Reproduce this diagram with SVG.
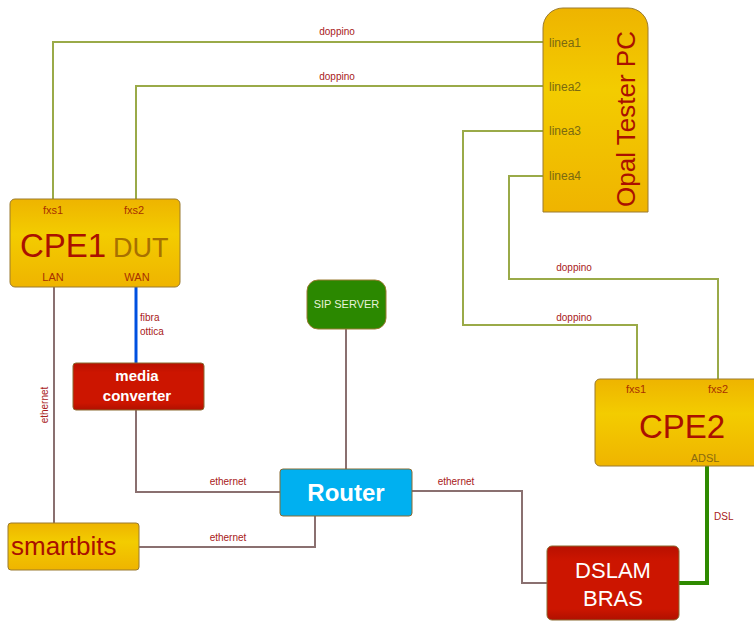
<svg xmlns="http://www.w3.org/2000/svg" width="754" height="621" viewBox="0 0 754 621">
<defs>
<linearGradient id="gy" x1="0" y1="0" x2="0" y2="1">
<stop offset="0" stop-color="#eeb400"/><stop offset="0.4" stop-color="#f3cc00"/><stop offset="1" stop-color="#efb400"/>
</linearGradient>
<linearGradient id="gr" x1="0" y1="0" x2="0" y2="1">
<stop offset="0" stop-color="#b81000"/><stop offset="0.2" stop-color="#cc1500"/><stop offset="0.85" stop-color="#cc1500"/><stop offset="1" stop-color="#b01000"/>
</linearGradient>
</defs>
<style>
text{font-family:"Liberation Sans",Arial,sans-serif}
.y{fill:url(#gy);stroke:#9a7a30;stroke-width:1}
.r{fill:url(#gr);stroke:#8a6a30;stroke-width:1}
.dp{fill:none;stroke:#9aaa48;stroke-width:2}
.et{fill:none;stroke:#8a7070;stroke-width:2}
.lbl{font-size:10px;fill:#a82020}
.port{font-size:11px;fill:#a83000}
.lin{font-size:12px;fill:#7a6a10}
</style>
<g id="connectors">
<polyline class="dp" points="543,42 53,42 53,199"/>
<polyline class="dp" points="543,86 136,86 136,199"/>
<polyline class="dp" points="543,131 463,131 463,325 637,325 637,379"/>
<polyline class="dp" points="543,176 509,176 509,279 718,279 718,379"/>
<text class="lbl" x="337" y="35" text-anchor="middle">doppino</text>
<text class="lbl" x="337" y="80" text-anchor="middle">doppino</text>
<text class="lbl" x="574" y="271" text-anchor="middle">doppino</text>
<text class="lbl" x="574" y="321" text-anchor="middle">doppino</text>
<line x1="136" y1="287" x2="136" y2="363" stroke="#0050e0" stroke-width="3"/>
<text class="lbl" x="140" y="321">fibra</text>
<text class="lbl" x="140" y="335">ottica</text>
<line class="et" x1="54" y1="287" x2="54" y2="523"/>
<text class="lbl" transform="translate(48,405) rotate(-90)" text-anchor="middle">ethernet</text>
<line class="et" x1="346" y1="329" x2="346" y2="469"/>
<polyline class="et" points="136,410 136,492 280,492"/>
<text class="lbl" x="228" y="485" text-anchor="middle">ethernet</text>
<polyline class="et" points="139,547 315,547 315,516"/>
<text class="lbl" x="228" y="541" text-anchor="middle">ethernet</text>
<polyline class="et" points="412,491 522,491 522,583 547,583"/>
<text class="lbl" x="456" y="485" text-anchor="middle">ethernet</text>
<polyline points="707,466 707,583 679,583" fill="none" stroke="#2e8a00" stroke-width="4"/>
<text class="lbl" x="714" y="520">DSL</text>
</g>
<g id="opal">
<path class="y" d="M543,212 V28 A20,20 0 0 1 563,8 H628 A20,20 0 0 1 648,28 V212 Z"/>
<text class="lin" x="549" y="47">linea1</text>
<text class="lin" x="549" y="91">linea2</text>
<text class="lin" x="549" y="135">linea3</text>
<text class="lin" x="549" y="180">linea4</text>
<text transform="translate(635,119) rotate(-90)" text-anchor="middle" font-size="26" fill="#aa1000">Opal Tester PC</text>
</g>
<g id="cpe1">
<rect class="y" x="10" y="199" width="170" height="88" rx="5"/>
<text class="port" x="53" y="214" text-anchor="middle">fxs1</text>
<text class="port" x="134" y="214" text-anchor="middle">fxs2</text>
<text x="20" y="257" font-size="33" fill="#aa1000">CPE1</text>
<text x="113" y="257" font-size="27" fill="#a87000">DUT</text>
<text class="port" x="53" y="281" text-anchor="middle">LAN</text>
<text class="port" x="137" y="281" text-anchor="middle">WAN</text>
</g>
<g id="sip">
<rect x="307" y="280" width="79" height="49" rx="11" fill="#2b8800" stroke="#9a7a30"/>
<text x="346.5" y="308" text-anchor="middle" font-size="11" fill="#e6f2d8">SIP SERVER</text>
</g>
<g id="mediaconverter">
<rect class="r" x="73" y="363" width="131" height="47" rx="3"/>
<text x="137" y="381" text-anchor="middle" font-size="15" font-weight="bold" fill="#ffffff">media</text>
<text x="137" y="401" text-anchor="middle" font-size="15" font-weight="bold" fill="#ffffff">converter</text>
</g>
<g id="cpe2">
<rect class="y" x="595" y="379" width="164" height="87" rx="5"/>
<text class="port" x="636" y="393" text-anchor="middle">fxs1</text>
<text class="port" x="718" y="393" text-anchor="middle">fxs2</text>
<text x="682" y="438" text-anchor="middle" font-size="33" fill="#aa1000">CPE2</text>
<text x="705" y="462" text-anchor="middle" font-size="11" fill="#8a6a10">ADSL</text>
</g>
<g id="router">
<rect x="280" y="469" width="132" height="47" rx="3" fill="#00b0f0" stroke="#8a6a30"/>
<text x="346" y="501" text-anchor="middle" font-size="24" font-weight="bold" fill="#ffffff">Router</text>
</g>
<g id="smartbits">
<rect class="y" x="8" y="523" width="131" height="47" rx="3"/>
<text x="11" y="555" font-size="26" fill="#aa1000">smartbits</text>
</g>
<g id="dslam">
<rect class="r" x="547" y="546" width="132" height="74" rx="5"/>
<text x="613" y="578" text-anchor="middle" font-size="22" fill="#ffffff">DSLAM</text>
<text x="613" y="606" text-anchor="middle" font-size="22" fill="#ffffff">BRAS</text>
</g>
</svg>
